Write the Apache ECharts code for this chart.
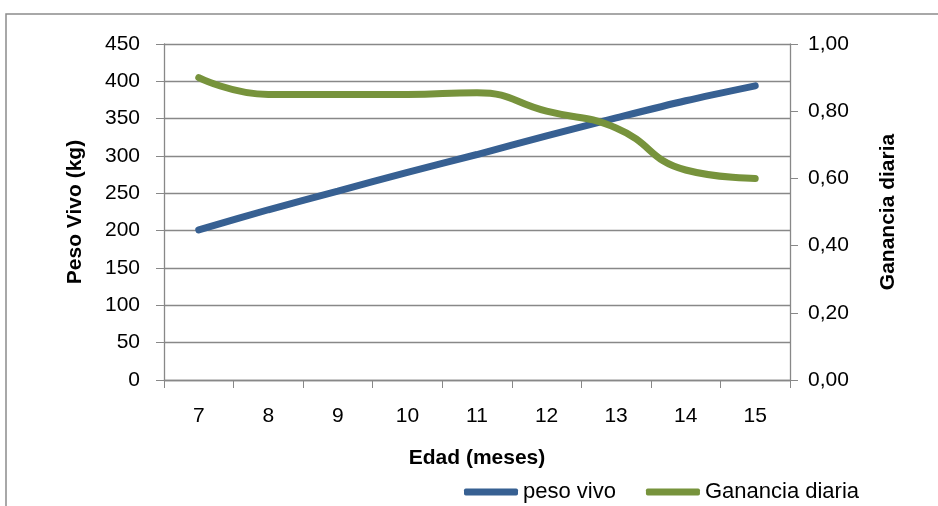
<!DOCTYPE html>
<html><head><meta charset="utf-8">
<script src="https://cdn.jsdelivr.net/npm/echarts@6/dist/echarts.min.js"></script>
<style>html,body{margin:0;padding:0;background:#fff}#c{width:938px;height:506px}</style>
</head><body><div id="c"></div>
<script>
const categories = ['7','8','9','10','11','12','13','14','15'];
const pesoVivo = [201, 228, 253, 278, 302, 327, 351, 374, 394];
const gananciaDiaria = [0.90, 0.85, 0.85, 0.85, 0.855, 0.80, 0.75, 0.625, 0.60];
const leftTicks = [0, 450, 50];
const rightTicks = [0, 1, 0.2];

const font = 'Liberation Sans';
const fs = 21;
const chart = echarts.init(document.getElementById('c'));
chart.setOption({
  animation: false,
  textStyle: {fontFamily: font},
  graphic: [{type:'rect', shape:{x:6, y:14, width:1000, height:600}, style:{fill:'none', stroke:'#8c8c8c', lineWidth:1.5}, silent:true}],
  grid: {left:164, right:148, top:44, bottom:126},
  legend: {
    top: 476, left: 459, itemWidth: 54, itemHeight: 7, itemGap: 30, icon: 'roundRect',
    textStyle: {fontSize: 22, color: '#000', fontFamily: font},
    data: ['peso vivo', 'Ganancia diaria']
  },
  xAxis: {
    type: 'category', data: categories, boundaryGap: true,
    name: 'Edad (meses)', nameLocation: 'middle', nameGap: 68,
    nameTextStyle: {fontSize: fs, fontWeight: 'bold', color: '#000'},
    axisLine: {lineStyle: {color: '#888', width: 1.3}},
    axisTick: {show: true, length: 8, alignWithLabel: false, lineStyle:{color:'#888'}},
    axisLabel: {fontSize: fs, color: '#000', margin: 26}
  },
  yAxis: [{
    type: 'value', min: leftTicks[0], max: leftTicks[1], interval: leftTicks[2],
    name: 'Peso Vivo (kg)', nameLocation: 'middle', nameGap: 78, nameRotate: 90,
    nameTextStyle: {fontSize: fs, fontWeight: 'bold', color: '#000'},
    axisLine: {show: true, lineStyle: {color: '#888', width: 1.3}},
    axisTick: {show: true, length: 8, lineStyle:{color:'#888'}},
    axisLabel: {fontSize: fs, color: '#000', margin: 24},
    splitLine: {show: true, lineStyle: {color: '#888', width: 1.3}}
  },{
    type: 'value', min: rightTicks[0], max: rightTicks[1], interval: rightTicks[2], position: 'right',
    name: 'Ganancia diaria', nameLocation: 'middle', nameGap: 88, nameRotate: 90,
    nameTextStyle: {fontSize: fs, fontWeight: 'bold', color: '#000'},
    axisLine: {show: true, lineStyle: {color: '#888', width: 1.3}},
    axisTick: {show: true, length: 8, lineStyle:{color:'#888'}},
    axisLabel: {fontSize: fs, color: '#000', margin: 18, formatter: v => v.toFixed(2).replace('.', ',')},
    splitLine: {show: false}
  }],
  series: [{
    name: 'peso vivo', type: 'line', data: pesoVivo, yAxisIndex: 0, smooth: 0.3,
    symbol: 'none', lineStyle: {color: '#376092', width: 7, cap: 'round'}, itemStyle: {color: '#376092'}
  },{
    name: 'Ganancia diaria', type: 'line', data: gananciaDiaria, yAxisIndex: 1, smooth: 0.5,
    symbol: 'none', lineStyle: {color: '#77933C', width: 7, cap: 'round'}, itemStyle: {color: '#77933C'}
  }]
});
</script></body></html>
